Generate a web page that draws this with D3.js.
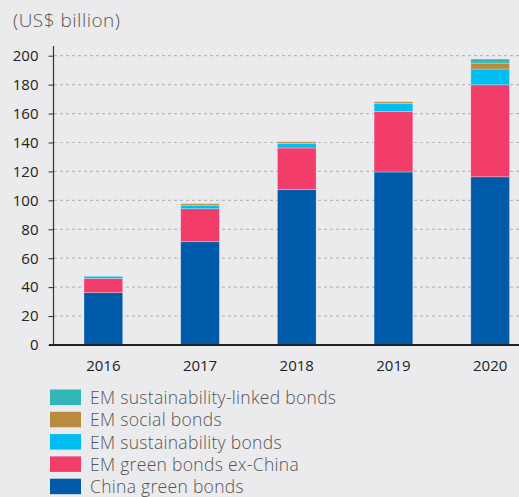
<!DOCTYPE html>
<html><head><meta charset="utf-8">
<script src="https://cdn.jsdelivr.net/npm/d3@7"></script>
<style>
html,body{margin:0;padding:0;background:#ebebed;}
svg{display:block;}
</style></head>
<body>
<script>
const years = ["2016","2017","2018","2019","2020"];
const seriesNames = ["China green bonds","EM green bonds ex-China","EM sustainability bonds","EM social bonds","EM sustainability-linked bonds"];
const chinaGreen = [36.2, 71.4, 107.4, 119.6, 116.3];
const greenExChina = [9.9, 22.8, 28.8, 41.9, 63.6];
const sustainability = [1.4, 2.4, 3.2, 5.6, 10.9];
const social = [0, 1.1, 1.1, 1.1, 4.1];
const sustLinked = [0, 0, 0, 0, 2.8];
const yTicks = [0,20,40,60,80,100,120,140,160,180,200];
const colors = ["#005aaa","#f23c6a","#00bef2","#b88b3e","#31b7b5"];

const W = 519, H = 497;
const FONT = "'Open Sans', Lato, sans-serif";
const svg = d3.select("body").append("svg").attr("width", W).attr("height", H);
svg.append("rect").attr("width",W).attr("height",H).attr("fill","#ebebed");

const x = d3.scaleBand().domain(years).range([55, 538.5]).paddingInner(0.6).paddingOuter(0.3);
const y = d3.scaleLinear().domain([0,200]).range([345, 55.7]);

// gridlines
svg.append("g").selectAll("line").data(yTicks.filter(d=>d>0)).join("line")
  .attr("x1", 54).attr("x2", W).attr("y1", d=>y(d)).attr("y2", d=>y(d))
  .attr("stroke","#b9b9bb").attr("stroke-width",1.2).attr("stroke-dasharray","3,3");

// stacked data
const table = years.map((yr,i)=>({year:yr, s0:chinaGreen[i], s1:greenExChina[i], s2:sustainability[i], s3:social[i], s4:sustLinked[i]}));
const stack = d3.stack().keys(["s0","s1","s2","s3","s4"])(table);

svg.append("g").selectAll("g").data(stack).join("g")
  .attr("fill",(d,i)=>colors[i])
  .selectAll("rect").data(d=>d.filter(p=>p[1]-p[0]>0)).join("rect")
  .attr("x", d=>x(d.data.year)).attr("width", x.bandwidth())
  .attr("y", d=>y(d[1])).attr("height", d=>y(d[0])-y(d[1]))
  .attr("stroke","rgba(255,255,255,0.35)").attr("stroke-width",0.8);

// y axis
const yAxis = d3.axisLeft(y).tickValues(yTicks).tickSize(5).tickPadding(10);
const gy = svg.append("g").attr("transform","translate(53.5,0)").call(yAxis);
gy.select(".domain").attr("d","M0,46V345").attr("stroke","#333").attr("stroke-width",1.2);
gy.selectAll(".tick line").attr("stroke","#333");
gy.selectAll("text").attr("font-family",FONT).attr("font-size",15).attr("fill","#222");

// x axis
const xAxis = d3.axisBottom(x).tickSize(0).tickPadding(15);
const gx = svg.append("g").attr("transform","translate(0,345)").call(xAxis);
gx.select(".domain").attr("d","M49,0H519").attr("stroke","#222").attr("stroke-width",2);
gx.selectAll("text").attr("font-family",FONT).attr("font-size",15).attr("fill","#222");

// title
svg.append("text").attr("x",13).attr("y",27).text("(US$ billion)")
  .attr("font-family",FONT).attr("font-weight",300).attr("font-size",19).attr("letter-spacing",0.5).attr("fill","#555");

// legend
const legendOrder = [4,3,2,1,0];
const lg = svg.append("g").selectAll("g").data(legendOrder).join("g")
  .attr("transform",(d,i)=>`translate(50,${389.5 + i*22.3})`);
lg.append("rect").attr("width",31).attr("height",15.5).attr("fill",d=>colors[d]);
lg.append("text").attr("x",40).attr("y",14.5).text(d=>seriesNames[d])
  .attr("font-family",FONT).attr("font-weight",300).attr("font-size",17.5).attr("letter-spacing",0.3).attr("fill","#555");
</script>
</body></html>
